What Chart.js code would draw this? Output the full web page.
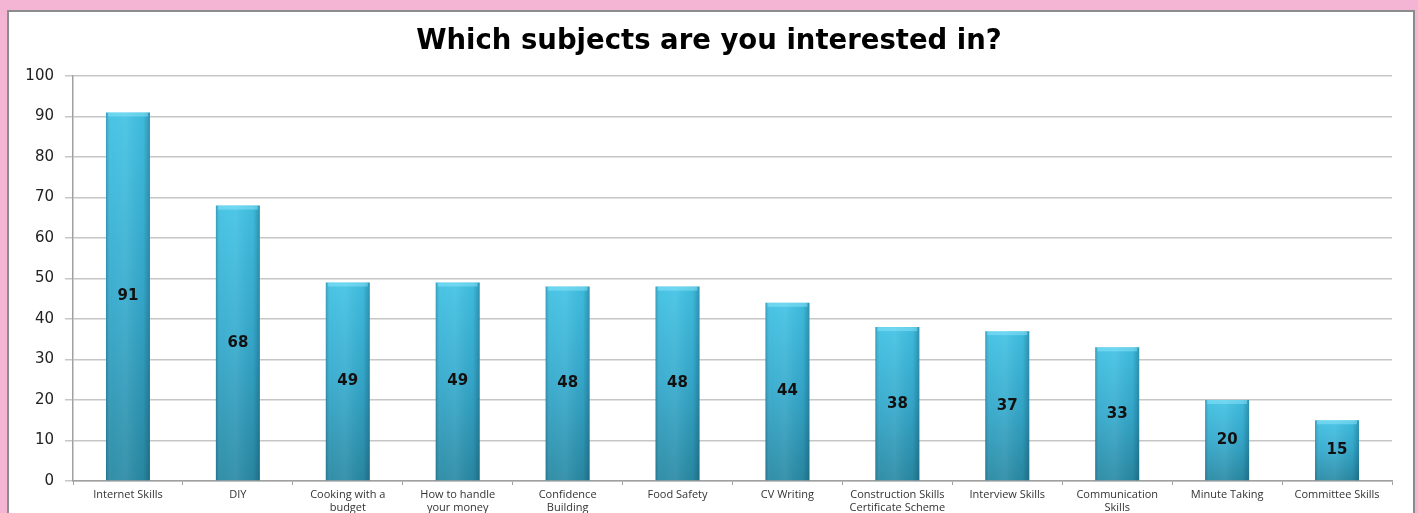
<!DOCTYPE html>
<html>
<head>
<meta charset="utf-8">
<script src="https://cdn.jsdelivr.net/npm/chart.js@4/dist/chart.umd.min.js"></script>
<style>
  html, body { margin: 0; padding: 0; background: #f4b4d4; overflow: hidden; }
  #panel { position: absolute; left: 7px; top: 10px; width: 1404px; height: 510px;
           background: #fff; border: 2px solid #8c8c8c; }
  #subjects { position: absolute; left: 0; top: 0; }
</style>
</head>
<body>
<div id="panel"></div>
<canvas id="subjects" width="1418" height="513"></canvas>
<script>
// Data
const subjects = [
  ["Internet Skills"], ["DIY"], ["Cooking with a", "budget"], ["How to handle", "your money"],
  ["Confidence", "Building"], ["Food Safety"], ["CV Writing"],
  ["Construction Skills", "Certificate Scheme"], ["Interview Skills"],
  ["Communication", "Skills"], ["Minute Taking"], ["Committee Skills"]
];
const interested = [91, 68, 49, 49, 48, 48, 44, 38, 37, 33, 20, 15];
const yTicks = [0, 10, 20, 30, 40, 50, 60, 70, 80, 90, 100];

// bar shading + value labels
const barExtras = {
  id: "barExtras",
  afterDatasetsDraw(chart) {
    const c = chart.ctx;
    const meta = chart.getDatasetMeta(0);
    meta.data.forEach((bar, i) => {
      const left = bar.x - bar.width / 2;
      const top = bar.y;
      const h = bar.base - bar.y;
      const g = c.createLinearGradient(left, 0, left + bar.width, 0);
      g.addColorStop(0, "rgba(0,40,60,0.25)");
      g.addColorStop(0.12, "rgba(255,255,255,0.04)");
      g.addColorStop(0.45, "rgba(255,255,255,0.08)");
      g.addColorStop(0.85, "rgba(0,40,60,0.05)");
      g.addColorStop(1, "rgba(0,40,60,0.3)");
      c.save();
      c.fillStyle = g;
      c.fillRect(left, top, bar.width, h);
      c.fillStyle = "rgba(150,235,255,0.45)";
      c.fillRect(left + 2, top, bar.width - 4, 4);
      c.fillStyle = "#111";
      c.font = "bold 15px 'DejaVu Sans'";
      c.textAlign = "center";
      c.textBaseline = "middle";
      c.fillText(String(interested[i]), bar.x, (bar.y + bar.base) / 2);
      c.restore();
    });
  }
};

function barGradient(ctx) {
  const chart = ctx.chart;
  if (!chart.chartArea) return "#3bb8dc";
  const y = chart.scales.y;
  const top = y.getPixelForValue(ctx.raw);
  const bottom = y.getPixelForValue(0);
  const g = chart.ctx.createLinearGradient(0, top, 0, bottom);
  g.addColorStop(0, "#42c2e4");
  g.addColorStop(0.5, "#36aacd");
  g.addColorStop(1, "#2a8aa4");
  return g;
}

new Chart(document.getElementById("subjects"), {
  type: "bar",
  data: {
    labels: subjects,
    datasets: [
      {
        label: "Interested",
        data: interested,
        backgroundColor: barGradient,
        categoryPercentage: 1,
        barPercentage: 0.4,
      },
    ],
  },
  options: {
    responsive: false,
    animation: false,
    devicePixelRatio: 1,
    layout: { padding: 0 },
    plugins: {
      legend: { display: false },
      tooltip: { enabled: false },
      title: {
        display: true,
        text: "Which subjects are you interested in?",
        color: "#000",
        font: { family: "DejaVu Sans", size: 27.5, weight: "bold", lineHeight: 1.2 },
        padding: { top: 25, bottom: 18 },
      },
    },
    scales: {
      y: {
        min: 0,
        max: 100,
        afterBuildTicks(scale) {
          scale.ticks = yTicks.map((v) => ({ value: v }));
        },
        afterFit(scale) { scale.width = 73; },
        ticks: {
          color: "#222",
          padding: 11,
          font: { family: "DejaVu Sans", size: 15 },
        },
        grid: { color: "#c6c6c6", lineWidth: 1.5, tickLength: 8 },
        border: { color: "#a0a0a0", width: 1.5 },
      },
      // empty right margin so the title stays centred on the whole panel
      gap: {
        position: "right",
        afterFit(scale) { scale.width = 26; },
        ticks: { display: false },
        grid: { display: false },
        border: { display: false },
      },
      x: {
        afterFit(scale) { scale.height = 32; },
        ticks: {
          color: "#333",
          padding: 3,
          maxRotation: 0,
          autoSkip: false,
          font: { family: "Open Sans", size: 11, lineHeight: 1.18 },
        },
        grid: { display: true, drawOnChartArea: false, offset: true, tickLength: 4, color: "#a0a0a0" },
        border: { color: "#a0a0a0", width: 1.5 },
      },
    },
  },
  plugins: [barExtras],
});
</script>
</body>
</html>
